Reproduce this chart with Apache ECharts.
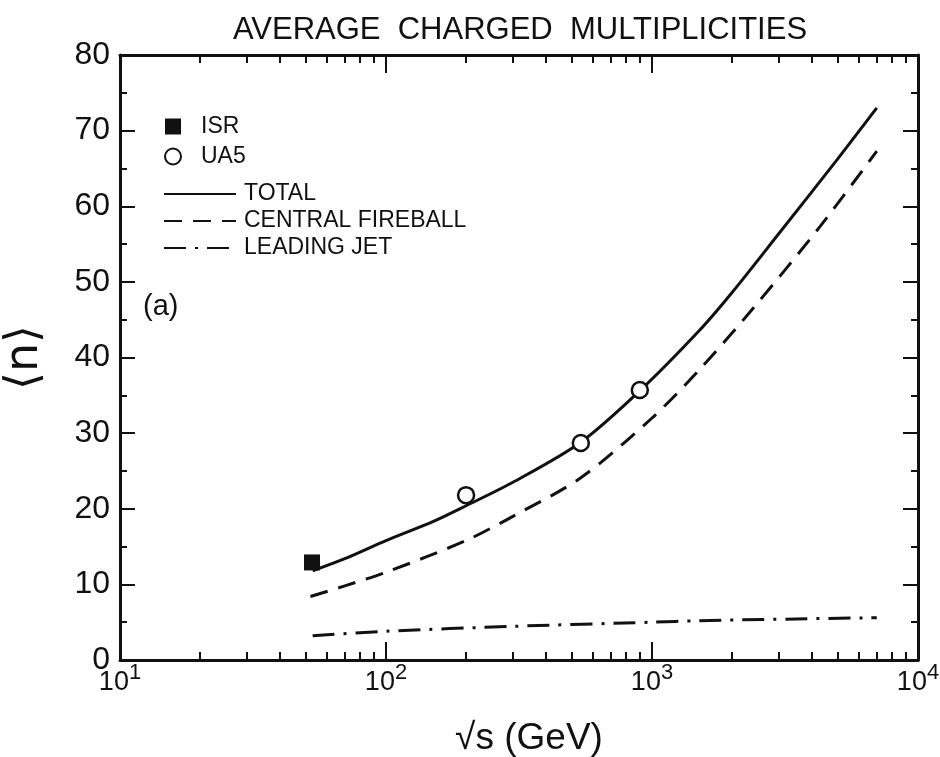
<!DOCTYPE html>
<html>
<head>
<meta charset="utf-8">
<script src="https://cdn.jsdelivr.net/npm/echarts@6/dist/echarts.min.js"></script>
<style>
  html, body { margin: 0; padding: 0; background: #fff; }
  #chart { width: 940px; height: 757px; }
</style>
</head>
<body>
<div id="chart"></div>
<script>
// sqrt(s) in GeV, <n>
var totalX = [53, 70, 100, 150, 200, 300, 540, 900, 1500, 2000, 3000, 5000, 7000];
var totalY = [11.8, 13.4, 15.8, 18.3, 20.4, 23.5, 28.8, 35.6, 43.5, 48.6, 56.4, 66.3, 73.0];
var fireballX = [52, 70, 100, 200, 300, 540, 1000, 1500, 2400, 4300, 7000];
var fireballY = [8.4, 9.8, 11.6, 15.8, 19.0, 24.1, 32.0, 38.3, 46.5, 57.4, 67.3];
var jetX = [53, 100, 300, 1000, 1500, 7000];
var jetY = [3.2, 3.8, 4.45, 5.0, 5.2, 5.6];
var isrX = [52.7];
var isrY = [12.9];
var ua5X = [200, 540, 900];
var ua5Y = [21.8, 28.7, 35.7];
var minorTicks = [20, 30, 40, 50, 60, 70, 80, 90, 200, 300, 400, 500, 600, 700, 800, 900,
  2000, 3000, 4000, 5000, 6000, 7000, 8000, 9000];

function pairs(xs, ys) {
  return xs.map(function (x, i) { return [x, ys[i]]; });
}

var font = '"Liberation Sans", Arial, sans-serif';
var ink = '#111';
var clear = 'rgba(0,0,0,0)';

function logAxis(pos, major) {
  return {
    type: 'log', logBase: 10, min: 10, max: 10000, position: pos, gridIndex: 0,
    axisLine: {show: major, lineStyle: {color: ink, width: 3}},
    axisTick: major ? {show: true, inside: true, length: 18, lineStyle: {color: ink, width: 2}}
      : {show: true, inside: true, length: 8, customValues: minorTicks, lineStyle: {color: ink, width: 2}},
    splitLine: {show: false},
    minorTick: {show: false},
    axisLabel: {
      show: major && pos === 'bottom', margin: 2, showMinLabel: true, showMaxLabel: true,
      formatter: function (v) {
        return '{b|10}{s|' + Math.round(Math.log10(v)) + '}';
      },
      rich: {
        b: {fontSize: 27, fontFamily: font, color: ink, verticalAlign: 'bottom', lineHeight: 34},
        s: {fontSize: 22, fontFamily: font, color: ink, verticalAlign: 'top', lineHeight: 34}
      }
    },
    name: major && pos === 'bottom' ? '√s (GeV)' : '',
    nameLocation: 'middle', nameGap: 60,
    nameTextStyle: {fontSize: 37, fontFamily: font, color: ink, padding: [0, 0, 0, 20]}
  };
}

function linAxis(pos) {
  return {
    type: 'value', min: 0, max: 80, interval: 10, position: pos, gridIndex: 0,
    axisLine: {show: true, lineStyle: {color: ink, width: 3}},
    axisTick: {show: true, inside: true, length: 15, lineStyle: {color: ink, width: 2}},
    minorTick: {show: true, splitNumber: 2, length: 7, lineStyle: {color: ink, width: 2}},
    splitLine: {show: false},
    minorSplitLine: {show: false},
    axisLabel: {show: pos === 'left', margin: 10, fontSize: 32, fontFamily: font, color: ink},
    name: pos === 'left' ? '⟨n⟩' : '',
    nameLocation: 'middle', nameRotate: 90, nameGap: 72,
    nameTextStyle: {fontSize: 46, fontFamily: '"DejaVu Sans", sans-serif', color: ink}
  };
}

var option = {
  backgroundColor: '#fff',
  animation: false,
  title: {
    text: 'AVERAGE  CHARGED  MULTIPLICITIES',
    left: 515, top: 10, textAlign: 'center',
    textStyle: {fontSize: 31, fontWeight: 'normal', fontFamily: font, color: ink}
  },
  grid: {left: 120, right: 22, top: 55, bottom: 97, containLabel: false, outerBoundsMode: 'none'},
  xAxis: [logAxis('bottom', true), logAxis('bottom', false), logAxis('top', true), logAxis('top', false)],
  yAxis: [linAxis('left'), linAxis('right')],
  legend: [
    {
      data: ['ISR', 'UA5'], orient: 'vertical', left: 159, top: 110,
      itemWidth: 16, itemHeight: 16, itemGap: 7,
      textStyle: {fontSize: 23, fontFamily: font, color: ink, padding: [0, 0, 0, 15]}
    },
    {
      data: ['TOTAL', 'CENTRAL FIREBALL', 'LEADING JET'], orient: 'vertical', left: 158, top: 177,
      itemWidth: 72, itemHeight: 14, itemGap: 3,
      itemStyle: {color: clear, borderColor: clear, borderWidth: 0, opacity: 0},
      textStyle: {fontSize: 23, fontFamily: font, color: ink, lineHeight: 24, padding: [0, 0, 0, 3]}
    }
  ],
  graphic: [
    {type: 'text', left: 143, top: 292, style: {text: '(a)', fontSize: 29, fontFamily: font, fill: ink}}
  ],
  series: [
    {
      name: 'TOTAL', type: 'line', smooth: 0.3, symbol: 'none',
      lineStyle: {color: ink, width: 3},
      itemStyle: {color: clear, borderWidth: 0},
      data: pairs(totalX, totalY)
    },
    {
      name: 'CENTRAL FIREBALL', type: 'line', smooth: 0.3, symbol: 'none',
      lineStyle: {color: ink, width: 3, type: [18, 11]},
      itemStyle: {color: clear, borderWidth: 0},
      data: pairs(fireballX, fireballY)
    },
    {
      name: 'LEADING JET', type: 'line', smooth: 0.3, symbol: 'none',
      lineStyle: {color: ink, width: 3, type: [22, 9, 3, 9]},
      itemStyle: {color: clear, borderWidth: 0},
      data: pairs(jetX, jetY)
    },
    {
      name: 'ISR', type: 'scatter', symbol: 'rect', symbolSize: 16, z: 5,
      itemStyle: {color: ink, opacity: 1},
      data: pairs(isrX, isrY)
    },
    {
      name: 'UA5', type: 'scatter', symbol: 'circle', symbolSize: 16, z: 5,
      itemStyle: {color: '#fff', borderColor: ink, borderWidth: 2.5, opacity: 1},
      data: pairs(ua5X, ua5Y)
    }
  ]
};

var chart = echarts.init(document.getElementById('chart'));
chart.setOption(option);
</script>
</body>
</html>
